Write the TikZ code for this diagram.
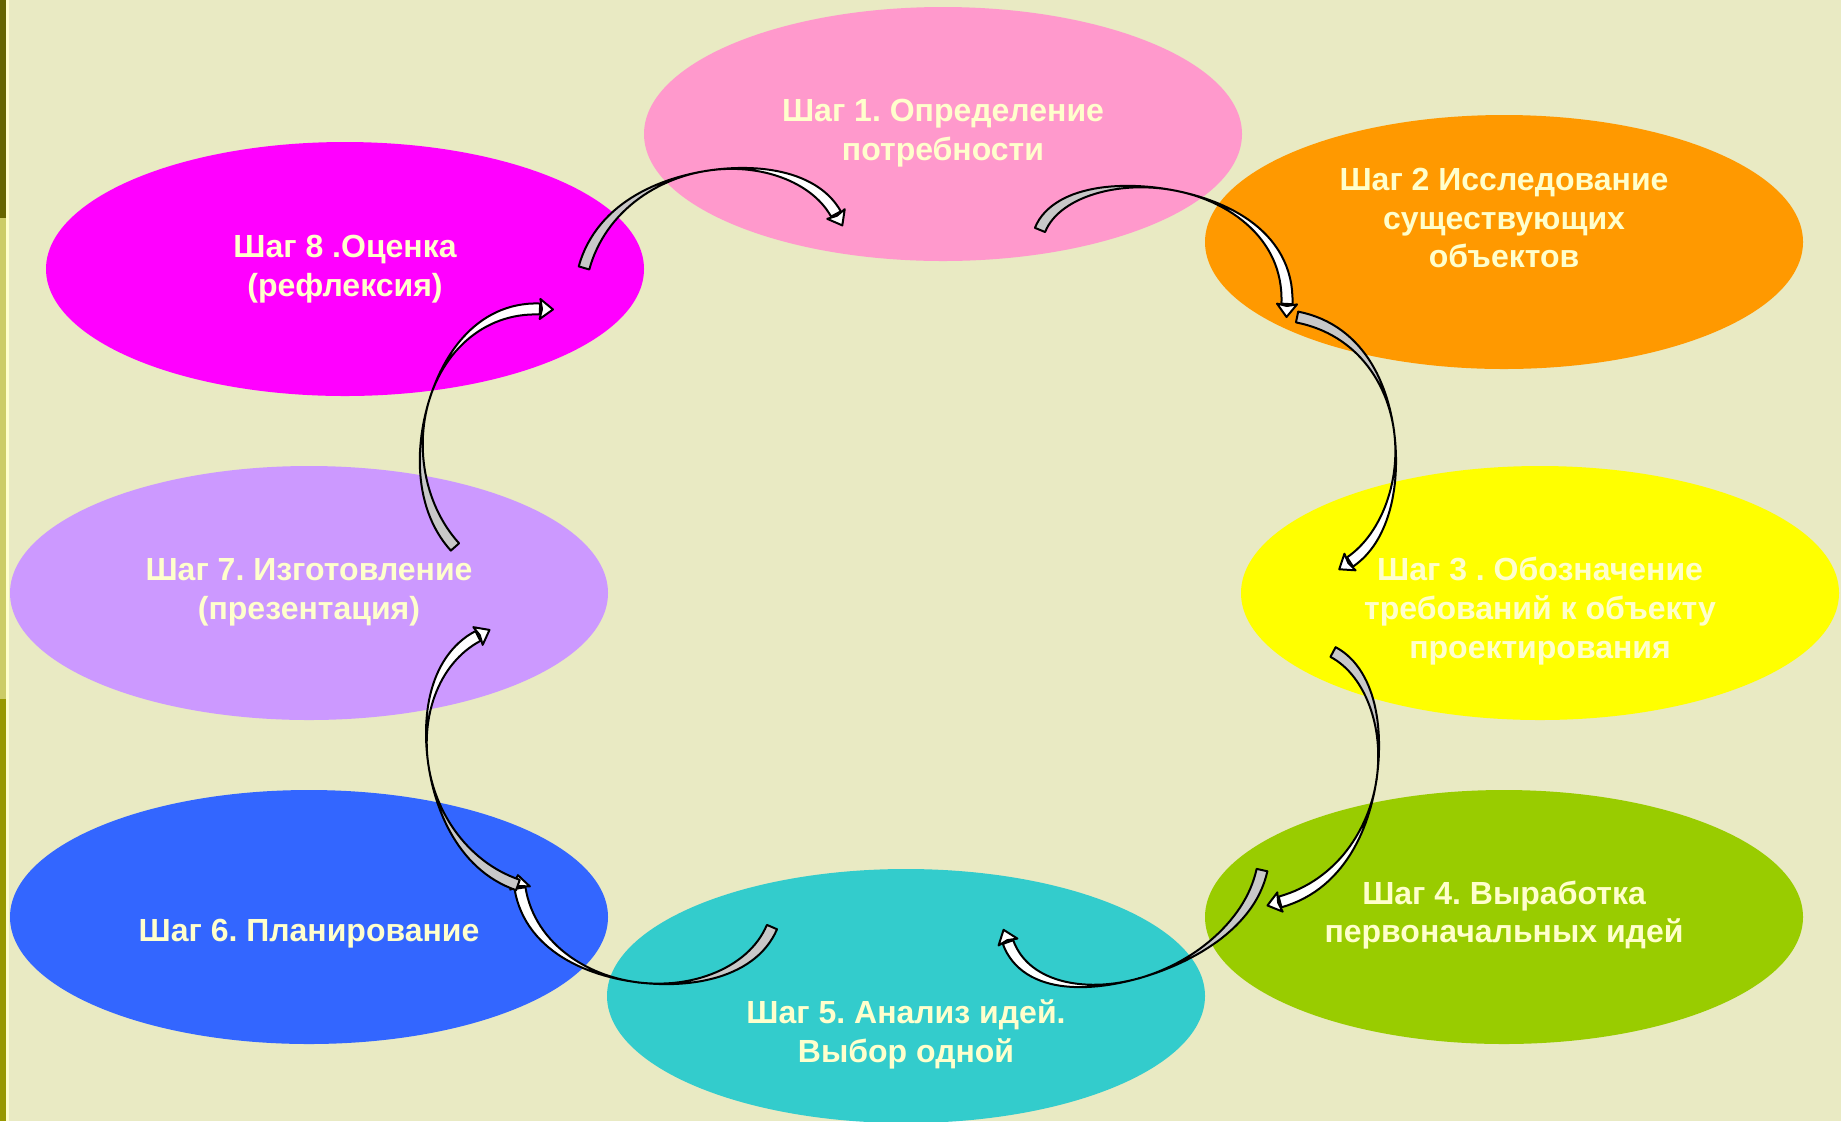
\documentclass[tikz,border=0pt]{standalone}
\usepackage{fontspec}
\setmainfont{Liberation Sans}
\usetikzlibrary{shapes.geometric}
\definecolor{bgcol}{HTML}{E9EAC3}
\definecolor{stripA}{HTML}{666600}
\definecolor{stripB}{HTML}{CCCC66}
\definecolor{stripC}{HTML}{999900}
\definecolor{creamline}{HTML}{FFFFCC}
\definecolor{txtcol}{HTML}{FFFFCC}
\definecolor{cPink}{HTML}{FF99CC}
\definecolor{cOrange}{HTML}{FF9900}
\definecolor{cYellow}{HTML}{FFFF00}
\definecolor{cGreen}{HTML}{99CC00}
\definecolor{cTeal}{HTML}{33CCCC}
\definecolor{cBlue}{HTML}{3366FF}
\definecolor{cLav}{HTML}{CC99FF}
\definecolor{cMag}{HTML}{FF00FF}
\definecolor{ribgray}{HTML}{C8C8C8}
\tikzset{
  ell/.style={ellipse, draw=none, inner sep=0pt, minimum width=299pt, minimum height=127pt},
  lab/.style={align=center, text=txtcol, font=\fontsize{16pt}{19.4pt}\selectfont\bfseries\frenchspacing, inner sep=0pt},
  ribout/.style={draw=black, line width=1pt, line join=round},
}
% cubic ribbon arrow: P0 P1 P2 P3 (pixel coordinates)
\newcommand\drawribbon[8]{%
\begin{scope}[declare function={
  om(\u)=1-\u;
  bx(\u)=om(\u)*om(\u)*om(\u)*#1+3*om(\u)*om(\u)*\u*#3+3*om(\u)*\u*\u*#5+\u*\u*\u*#7;
  by(\u)=om(\u)*om(\u)*om(\u)*#2+3*om(\u)*om(\u)*\u*#4+3*om(\u)*\u*\u*#6+\u*\u*\u*#8;
  dx(\u)=(3*om(\u)*om(\u)*(#3-#1)+6*om(\u)*\u*(#5-#3)+3*\u*\u*(#7-#5))/100;
  dy(\u)=(3*om(\u)*om(\u)*(#4-#2)+6*om(\u)*\u*(#6-#4)+3*\u*\u*(#8-#6))/100;
  nl(\u)=sqrt(dx(\u)*dx(\u)+dy(\u)*dy(\u));
  ux(\u)=dx(\u)/nl(\u);
  uy(\u)=dy(\u)/nl(\u);
  wd(\u)=5.5*cos(180*\u)*cos(180*\u);
}]
\filldraw[ribout, fill=ribgray]
  plot[variable=\u, domain=0:0.5, samples=30] ({bx(\u)-uy(\u)*wd(\u)},{by(\u)+ux(\u)*wd(\u)})
  -- plot[variable=\u, domain=0.5:0, samples=30] ({bx(\u)+uy(\u)*wd(\u)},{by(\u)-ux(\u)*wd(\u)})
  -- cycle;
\filldraw[ribout, fill=white]
  plot[variable=\u, domain=0.5:1, samples=30] ({bx(\u)-uy(\u)*wd(\u)},{by(\u)+ux(\u)*wd(\u)})
  -- plot[variable=\u, domain=1:0.5, samples=30] ({bx(\u)+uy(\u)*wd(\u)},{by(\u)-ux(\u)*wd(\u)})
  -- cycle;
\filldraw[ribout, fill=white]
  ({bx(1)-uy(1)*10},{by(1)+ux(1)*10})
  -- ({bx(1)+ux(1)*13},{by(1)+uy(1)*13})
  -- ({bx(1)+uy(1)*10},{by(1)-ux(1)*10})
  -- ({bx(1)+ux(1)*2},{by(1)+uy(1)*2})
  -- cycle;
\end{scope}}
\begin{document}
\begin{tikzpicture}[x=0.5pt, y=-0.5pt]
\useasboundingbox (0,0) rectangle (1841,1121);
\clip (0,0) rectangle (1841,1121);
\fill[bgcol] (0,0) rectangle (1841,1121);
\fill[stripA] (0,0) rectangle (6,218);
\fill[stripB] (0,218) rectangle (6,699);
\fill[stripC] (0,699) rectangle (6,1121);
\fill[creamline] (6,0) rectangle (9,1121);

% ellipses
\node[ell, fill=cPink]   (e1) at (943,134) {};
\node[ell, fill=cOrange] (e2) at (1504,242) {};
\node[ell, fill=cYellow] (e3) at (1540,593) {};
\node[ell, fill=cGreen]  (e4) at (1504,917) {};
\node[ell, fill=cTeal]   (e5) at (906,996) {};
\node[ell, fill=cBlue]   (e6) at (309,917) {};
\node[ell, fill=cLav]    (e7) at (309,593) {};
\node[ell, fill=cMag]    (e8) at (345,269) {};

% labels
\node[lab] (t1) at (943,133) {Шаг 1. Определение\\потребности};
\node[lab] (t2) at (1504,218) {Шаг 2 Исследование\\существующих\\объектов};
\node[lab] (t3) at (1540,611) {Шаг 3 . Обозначение\\требований к объекту\\проектирования};
\node[lab] (t4) at (1504,915) {Шаг 4. Выработка\\первоначальных идей};
\node[lab] (t5) at (906,1034) {Шаг 5. Анализ идей.\\Выбор одной};
\node[lab] (t6) at (309,934) {Шаг 6. Планирование};
\node[lab] (t7) at (309,592) {Шаг 7. Изготовление\\(презентация)};
\node[lab] (t8) at (345,269) {Шаг 8 .Оценка\\(рефлексия)};

% curved ribbon arrows
\drawribbon{584}{268}{615}{155}{795}{140}{836}{214}
\drawribbon{1040}{230}{1070}{155}{1292}{176}{1287}{304}
\drawribbon{1297}{317}{1415}{340}{1420}{515}{1350}{562}
\drawribbon{1333}{652}{1405}{690}{1395}{870}{1280}{902}
\drawribbon{1262}{870}{1240}{975}{1040}{1030}{1008}{942}
\drawribbon{772}{927}{735}{1015}{538}{1000}{520}{888}
\drawribbon{518}{885}{415}{850}{395}{680}{478}{636}
\drawribbon{455}{547}{385}{470}{430}{305}{540}{309}
\end{tikzpicture}
\end{document}
